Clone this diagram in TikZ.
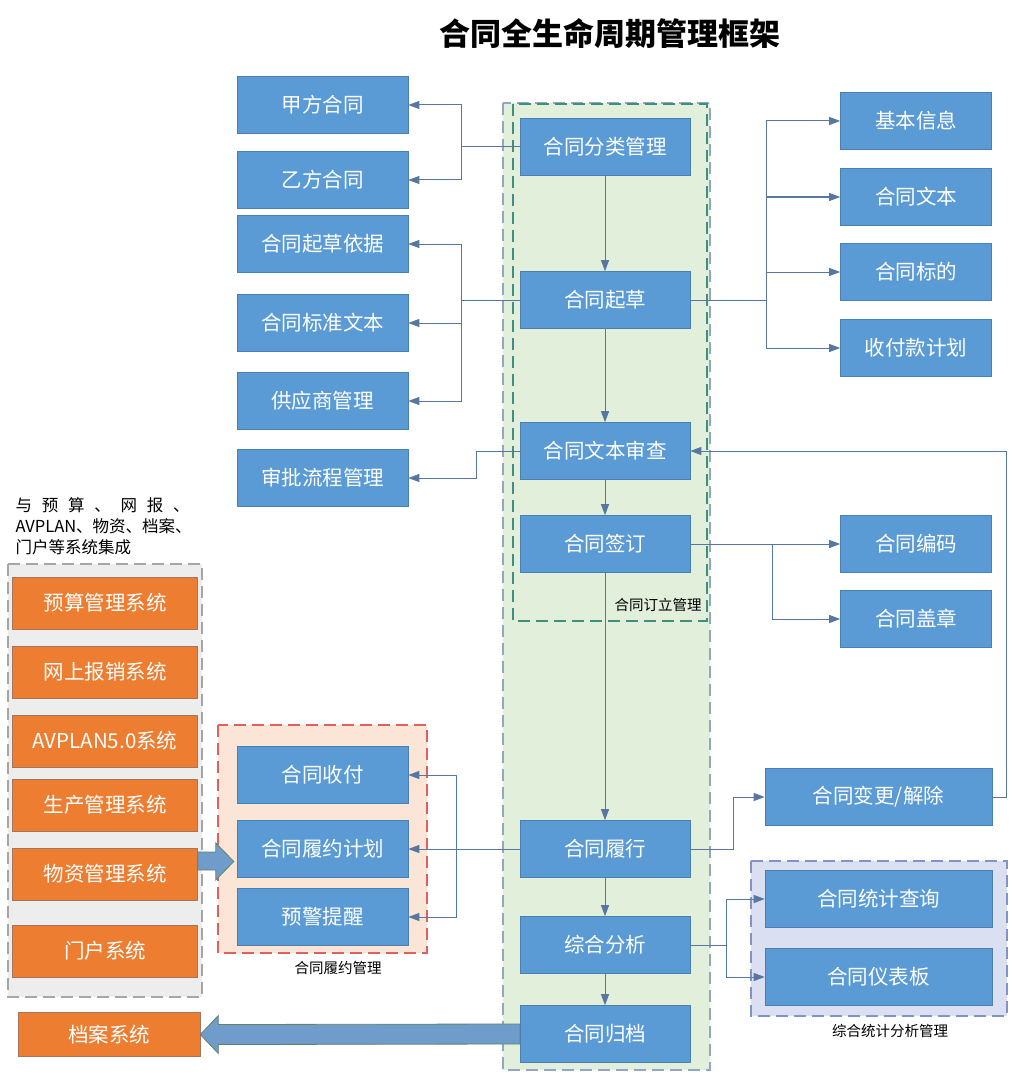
\documentclass[tikz,border=0pt]{standalone}
\usepackage{fontspec}
\setmainfont{Noto Sans CJK SC}
\usetikzlibrary{arrows.meta,calc,positioning}
\definecolor{ctBlue}{HTML}{5B9BD5}
\definecolor{ctBlueEdge}{HTML}{4A7FB0}
\definecolor{ctOrange}{HTML}{ED7D31}
\definecolor{ctOrangeEdge}{HTML}{A7745C}
\definecolor{ctLink}{HTML}{5877A0}
\definecolor{ctGreen}{HTML}{E2EFDA}
\definecolor{ctTeal}{HTML}{3F8F80}
\definecolor{ctZone}{HTML}{8FA7C0}
\definecolor{ctPeach}{HTML}{FBE5D6}
\definecolor{ctRed}{HTML}{E06060}
\definecolor{ctLav}{HTML}{DAE0F2}
\definecolor{ctLavEdge}{HTML}{8493C6}
\definecolor{ctGray}{HTML}{EDEDED}
\definecolor{ctGrayEdge}{HTML}{A6A6A6}
\definecolor{ctFat}{HTML}{6F9CCB}
\definecolor{ctFatEdge}{HTML}{5F8468}
\tikzset{
 frame/.style={font=\fontsize{20.5}{24}\selectfont,line join=miter},
 box/.style={rectangle,fill=ctBlue,draw=ctBlueEdge,line width=.6pt,text=white,inner sep=0pt,minimum height=57pt},
 stage/.style={box,minimum width=170pt},
 side/.style={box,minimum width=171pt},
 info/.style={box,minimum width=151pt},
 wide/.style={box,minimum width=227pt},
 sys/.style={rectangle,fill=ctOrange,draw=ctOrangeEdge,line width=.6pt,text=white,inner sep=0pt,minimum width=185pt,minimum height=52pt},
 link/.style={draw=ctLink,line width=1pt,-{Triangle[length=11pt,width=8pt]}},
 zone/.style={dash pattern=on 12pt off 6pt,line width=1.2pt},
 tag/.style={font=\fontsize{14.5}{17}\selectfont,text=black},
 fat/.style={fill=ctFat,draw=ctFatEdge,line width=.8pt,line join=miter}
}

\begin{document}
\begin{tikzpicture}[frame,x=1pt,y=-1pt]
 \useasboundingbox[fill=white] (0,0) rectangle (1013,1078);
 % zones
 \path[fill=ctGreen,draw=ctZone,zone] (503,103) rectangle (710,1070);
 \draw[ctTeal,zone] (513,104) rectangle (707,621);
 \path[fill=ctPeach,draw=ctRed,zone] (218,725) rectangle (427,953);
 \path[fill=ctLav,draw=ctLavEdge,zone] (751,861) rectangle (1007,1016);
 \path[fill=ctGray,draw=ctGrayEdge,zone] (8,564) rectangle (202,997);
 \node[font=\fontsize{31}{36}\selectfont\bfseries] (title) at (610,33) {合同全生命周期管理框架};
 % main line
 \node[stage] (fenlei) at (605,147) {合同分类管理};
 \node[stage] (qicao) at (605,300) {合同起草};
 \node[stage] (shencha) at (605,451) {合同文本审查};
 \node[stage] (qianding) at (605,544) {合同签订};
 \node[stage] (lvxing) at (605,849) {合同履行};
 \node[stage] (fenxi) at (605,945) {综合分析};
 \node[stage] (guidang) at (605,1034) {合同归档};
 % left column
 \node[side] (jiafang) at (322.5,105) {甲方合同};
 \node[side] (yifang) at (322.5,180) {乙方合同};
 \node[side] (yiju) at (322.5,244) {合同起草依据};
 \node[side] (biaozhun) at (322.5,323) {合同标准文本};
 \node[side] (gongying) at (322.5,401) {供应商管理};
 \node[side] (liucheng) at (322.5,478) {审批流程管理};
 \node[side] (shoufu) at (322.5,775) {合同收付};
 \node[side] (jihua) at (322.5,849) {合同履约计划};
 \node[side] (yujing) at (322.5,917) {预警提醒};
 % right column
 \node[info] (jiben) at (916,121) {基本信息};
 \node[info] (wenben) at (916,197) {合同文本};
 \node[info] (biaodi) at (916,272) {合同标的};
 \node[info] (shoufukuan) at (916,348) {收付款计划};
 \node[info] (bianma) at (916,544) {合同编码};
 \node[info] (gaizhang) at (916,619) {合同盖章};
 \node[wide] (biangeng) at (878.5,797) {合同变更/解除};
 \node[wide] (chaxun) at (878.5,899) {合同统计查询};
 \node[wide] (yibiao) at (878.5,977) {合同仪表板};
 % outside systems
 \node[anchor=north west,align=left,font=\fontsize{16.5}{21}\selectfont] (jicheng) at (12,494)
   {\makebox[174pt][l]{与\hfill 预\hfill 算\hfill 、\hfill 网\hfill 报\hfill 、}\\AVPLAN、物资、档案、\\门户等系统集成};
 \node[sys] (yusuan) at (105,603) {预算管理系统};
 \node[sys] (baoxiao) at (105,672) {网上报销系统};
 \node[sys] (avplan) at (105,741) {AVPLAN5.0系统};
 \node[sys] (shengchan) at (105,805) {生产管理系统};
 \node[sys] (wuzi) at (105,874) {物资管理系统};
 \node[sys] (menhu) at (105,951) {门户系统};
 \node[sys,minimum width=182pt,minimum height=44pt] (dangan) at (109,1034.5) {档案系统};
 \node[tag] (dingli) at (658,605) {合同订立管理};
 \node[tag] (lvyue) at (338,968) {合同履约管理};
 \node[tag] (tongji) at (890,1031) {综合统计分析管理};
 % connectors
 \draw[link] (fenlei) -- (qicao);
 \draw[link] (qicao) -- (shencha);
 \draw[link] (shencha) -- (qianding);
 \draw[link] (qianding) -- (lvxing);
 \draw[link] (lvxing) -- (fenxi);
 \draw[link] (fenxi) -- (guidang);
 \draw[link] (fenlei.west) -- ++(-58,0) |- (jiafang.east);
 \draw[link] (fenlei.west) -- ++(-58,0) |- (yifang.east);
 \draw[link] (qicao.west) -- ++(-58,0) |- (yiju.east);
 \draw[link] (qicao.west) -- ++(-58,0) |- (biaozhun.east);
 \draw[link] (qicao.west) -- ++(-58,0) |- (gongying.east);
 \draw[link] (shencha.west) -- ++(-43,0) |- (liucheng.east);
 \draw[link] (qicao.east) -- ++(76,0) |- (jiben.west);
 \draw[link] (qicao.east) -- ++(76,0) |- (wenben.west);
 \draw[link] (qicao.east) -- ++(76,0) |- (biaodi.west);
 \draw[link] (qicao.east) -- ++(76,0) |- (shoufukuan.west);
 \draw[link] (qianding.east) -- (bianma.west);
 \draw[link] (qianding.east) -- ++(82,0) |- (gaizhang.west);
 \draw[link] (lvxing.east) -- ++(43,0) |- (biangeng.west);
 \draw[link] (biangeng.east) -- ++(14,0) |- (shencha.east);
 \draw[link] (lvxing.west) -- (jihua.east);
 \draw[link] (lvxing.west) -- ++(-63,0) |- (shoufu.east);
 \draw[link] (lvxing.west) -- ++(-63,0) |- (yujing.east);
 \draw[link] (fenxi.east) -- ++(36,0) |- (chaxun.west);
 \draw[link] (fenxi.east) -- ++(36,0) |- (yibiao.west);
 % block arrows
 \path[fat] ($(wuzi.east)+(0,-22)$) -- ++(18,0) -- ++(0,-9) -- ++(18,18.5) -- ++(-18,18.5) -- ++(0,-10) -- ++(-18,0) -- cycle;
 \path[fat] (dangan.east) -- ++(18,-19) -- ++(0,9) -- ($(guidang.west)+(0,-10)$) -- ($(guidang.west)+(0,10)$) -- ($(dangan.east)+(18,10)$) -- ++(0,9) -- cycle;
\end{tikzpicture}
\end{document}
